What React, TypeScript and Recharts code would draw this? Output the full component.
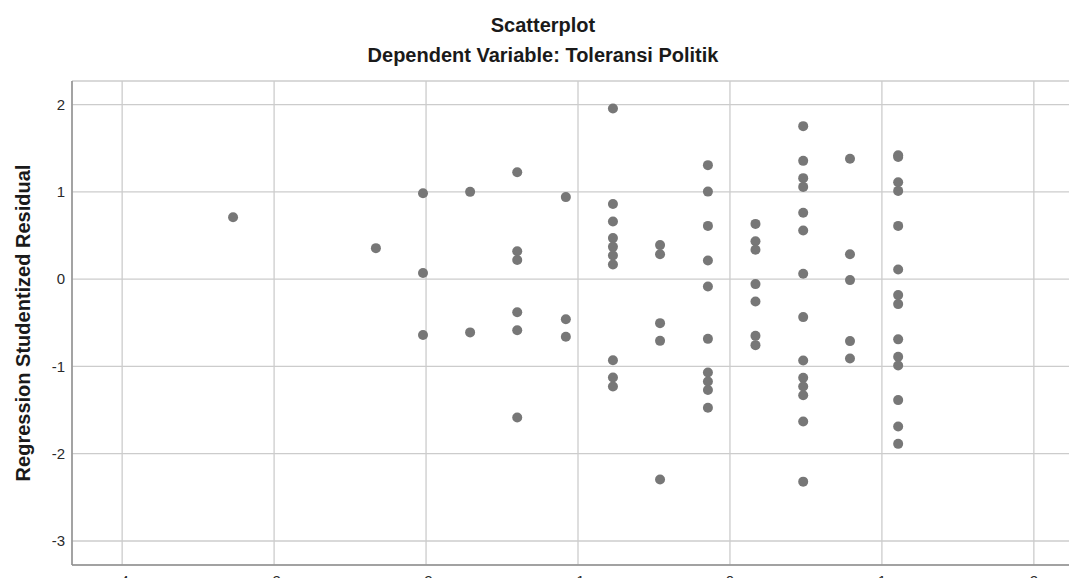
import { ScatterChart, Scatter, XAxis, YAxis, CartesianGrid } from 'recharts';

// standardized predicted value of each column of points
const predictedX = [-3.27, -2.33, -2.02, -1.71, -1.40, -1.08, -0.77, -0.46, -0.145, 0.168, 0.482, 0.79, 1.107];

// studentized residuals for each column, same order as predictedX
const residualsByColumn = [
	[0.71],
	[0.355],
	[0.985, 0.07, -0.64],
	[1.0, -0.61],
	[1.225, 0.32, 0.22, -0.38, -0.585, -1.585],
	[0.94, -0.46, -0.66],
	[1.955, 0.86, 0.66, 0.47, 0.37, 0.27, 0.167, -0.93, -1.127, -1.23],
	[0.39, 0.286, -0.504, -0.707, -2.295],
	[1.306, 1.003, 0.61, 0.213, -0.085, -0.684, -1.07, -1.173, -1.27, -1.474],
	[0.633, 0.435, 0.336, -0.057, -0.256, -0.65, -0.756],
	[1.753, 1.355, 1.157, 1.057, 0.76, 0.557, 0.061, -0.435, -0.932, -1.13, -1.23, -1.33, -1.63, -2.32],
	[1.38, 0.286, -0.011, -0.71, -0.91],
	[1.42, 1.40, 1.11, 1.011, 0.61, 0.11, -0.183, -0.286, -0.69, -0.89, -0.99, -1.386, -1.688, -1.887],
];

const xTicks = [-4, -3, -2, -1, 0, 1, 2];
const yTicks = [-3, -2, -1, 0, 1, 2];

const font = '"Liberation Sans", Arial, sans-serif';

const titleStyle = {
	position: 'absolute' as const,
	left: 0,
	width: 1070,
	textAlign: 'center' as const,
	fontSize: 20,
	lineHeight: '20px',
	fontWeight: 'bold',
	color: '#1a1a1a',
	whiteSpace: 'nowrap' as const,
};

export default function App() {
	const points = predictedX.flatMap((x, i) =>
		residualsByColumn[i].map((y) => ({ x, y }))
	);

	return (
		<div style={{ position: 'relative', width: 1069, height: 570, overflow: 'hidden', fontFamily: font }}>
			<div style={{ ...titleStyle, top: 7 }}>Scatterplot</div>
			<div style={{ ...titleStyle, top: 37 }}>Dependent Variable: Toleransi Politik</div>
			<div style={{ ...titleStyle, left: 15 - 250, width: 500, top: 315 - 10, transform: 'rotate(-90deg)' }}>
				Regression Studentized Residual
			</div>
			<ScatterChart width={1080} height={600} margin={{ top: 73, right: 4, bottom: 13, left: 0 }}>
				<CartesianGrid stroke="#cccccc" strokeWidth={1.3} />
				<XAxis
					type="number"
					dataKey="x"
					domain={[-4.33, 2.33]}
					ticks={xTicks}
					height={30}
					tickLine={false}
					tickSize={0}
					tickMargin={10}
					axisLine={{ stroke: '#8f8f8f', strokeWidth: 1.5 }}
					tick={{ fill: '#2a2a2a', fontSize: 15, fontFamily: font }}
				/>
				<YAxis
					type="number"
					dataKey="y"
					domain={[-3.275, 2.27]}
					ticks={yTicks}
					width={64}
					tickLine={false}
					tickSize={0}
					tickMargin={7}
					axisLine={{ stroke: '#8f8f8f', strokeWidth: 1.5 }}
					tick={{ fill: '#2a2a2a', fontSize: 15, fontFamily: font }}
				/>
				<Scatter
					data={points}
					isAnimationActive={false}
					shape={(p: any) => <circle cx={p.cx} cy={p.cy} r={5} fill="#777777" />}
				/>
			</ScatterChart>
		</div>
	);
}
